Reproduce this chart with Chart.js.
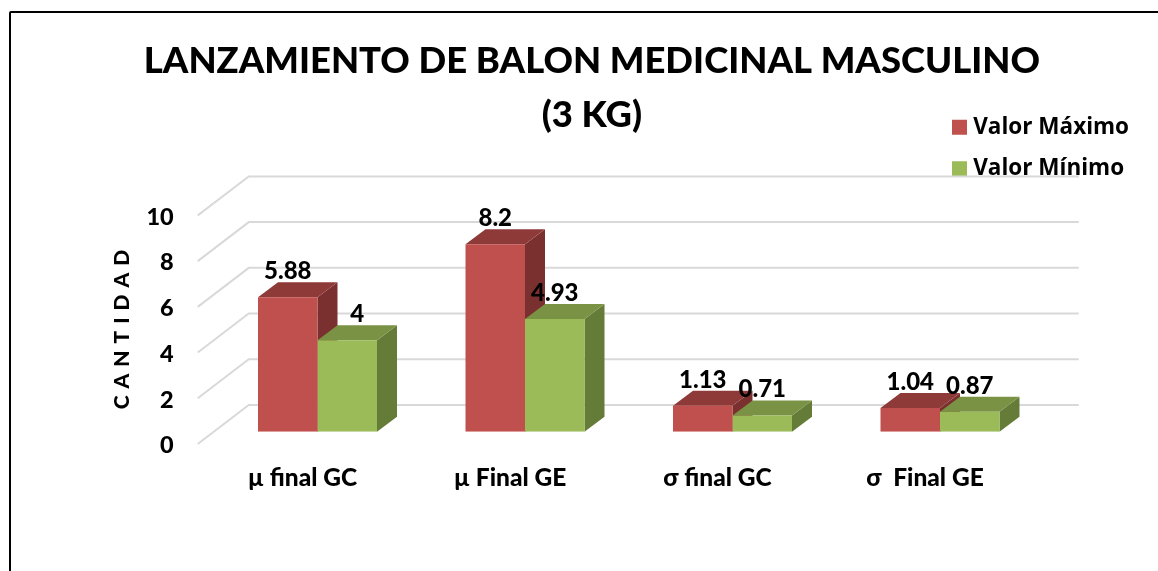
<!DOCTYPE html>
<html>
<head>
<meta charset="utf-8">
<title>Lanzamiento de balon medicinal</title>
<script src="https://cdn.jsdelivr.net/npm/chart.js@4"></script>
<style>
  html, body { margin: 0; background: #fff; overflow: hidden; }
  #wrap { position: relative; width: 1158px; height: 571px; overflow: hidden; }
  #frame { position: absolute; left: 9px; top: 11px; width: 1300px; height: 800px; border: 2px solid #000; border-radius: 2px; }
</style>
</head>
<body>
<div id="wrap">
  <canvas id="chart" width="1158" height="571"></canvas>
  <div id="frame"></div>
</div>
<script>
const categories = ["µ final GC", "µ Final GE", "σ final GC", "σ  Final GE"];
const valorMaximo = [5.88, 8.2, 1.13, 1.04];
const valorMinimo = [4, 4.93, 0.71, 0.87];
const yTicks = [0, 2, 4, 6, 8, 10];

const FONT = "Lato, Carlito, sans-serif";
const faces = [
  { top: "#8E3A38", side: "#7A302E" },
  { top: "#7A9244", side: "#657C39" },
];

// fake 3D: side and top faces are hung off the real bar elements
const bars3d = {
  id: "bars3d",
  beforeDatasetsDraw(chart) {
    const { ctx, chartArea: a, scales: { y } } = chart;
    ctx.save();
    ctx.strokeStyle = "#D9D9D9";
    ctx.lineWidth = 2;
    yTicks.forEach((v) => {
      const py = y.getPixelForValue(v);
      ctx.beginPath();
      ctx.moveTo(a.left - 16, py + 12.3);
      ctx.lineTo(a.left + 35, py - 26.7);
      ctx.lineTo(a.right + 35, py - 26.7);
      ctx.stroke();
    });
    ctx.restore();

    const dx = 20, dy = 15;
    chart.data.datasets.forEach((ds, i) => {
      const c = faces[i];
      chart.getDatasetMeta(i).data.forEach((bar) => {
        const { x, y, width, base } = bar.getProps(["x", "y", "width", "base"], true);
        const l = x - width / 2, r = x + width / 2;
        ctx.fillStyle = c.side;
        ctx.beginPath();
        ctx.moveTo(r, y);
        ctx.lineTo(r + dx, y - dy);
        ctx.lineTo(r + dx, base - dy);
        ctx.lineTo(r, base);
        ctx.closePath();
        ctx.fill();
        ctx.fillStyle = c.top;
        ctx.beginPath();
        ctx.moveTo(l, y);
        ctx.lineTo(l + dx, y - dy);
        ctx.lineTo(r + dx, y - dy);
        ctx.lineTo(r, y);
        ctx.closePath();
        ctx.fill();
      });
    });
  },
  afterDatasetsDraw(chart) {
    const { ctx } = chart;
    ctx.save();
    ctx.font = "900 24px " + FONT;
    ctx.fillStyle = "#000";
    ctx.textAlign = "center";
    ctx.textBaseline = "middle";
    chart.data.datasets.forEach((ds, i) => {
      chart.getDatasetMeta(i).data.forEach((bar, j) => {
        const { x, y } = bar.getProps(["x", "y"], true);
        // the "4" label sits a bit to the right in the original
        const shift = ds.data[j] === 4 ? 10 : 0;
        ctx.fillText(String(ds.data[j]), x + shift, y - 26);
      });
    });
    // axis title, centred lower than the scale's own title would be
    ctx.translate(122, 329);
    ctx.rotate(-Math.PI / 2);
    ctx.font = "900 21px " + FONT;
    ctx.letterSpacing = "1px";
    ctx.fillText("C A N T I D A D", 0, 0);
    ctx.restore();
  },
  beforeDraw(chart) {
    const lg = chart.legend;
    const w = lg.width, h = lg.height;
    lg.left = 938; lg.right = 938 + w;
    lg.top = 97; lg.bottom = 97 + h;
  },
};

new Chart(document.getElementById("chart"), {
  type: "bar",
  data: {
    labels: categories,
    datasets: [
      { label: "Valor Máximo", data: valorMaximo, backgroundColor: "#C0504D", borderWidth: 0 },
      { label: "Valor Mínimo", data: valorMinimo, backgroundColor: "#9BBB59", borderWidth: 0 },
    ],
  },
  plugins: [bars3d],
  options: {
    responsive: false,
    animation: false,
    layout: { padding: { left: 140, right: 114.25, top: 0, bottom: 0 } },
    datasets: { bar: { categoryPercentage: 0.5735, barPercentage: 1 } },
    scales: {
      x: {
        grid: { display: false },
        border: { display: false },
        afterFit(scale) { scale.height = 139.3; },
        ticks: {
          color: "#000",
          font: { family: FONT, size: 24.5, weight: "900" },
          labelOffset: -15,
          padding: 24,
          maxRotation: 0,
        },
      },
      y: {
        min: 0,
        max: 10,
        grid: { display: false },
        border: { display: false },
        afterFit(scale) { scale.width = 73.75; },
        afterBuildTicks(scale) { scale.ticks = yTicks.map((v) => ({ value: v })); },
        ticks: {
          color: "#000",
          font: { family: FONT, size: 23.5, weight: "900" },
          labelOffset: 14,
          padding: 32,
        },
      },
    },
    plugins: {
      title: {
        display: true,
        text: ["LANZAMIENTO DE BALON MEDICINAL MASCULINO", "(3 KG)"],
        color: "#000",
        font: { family: FONT, size: 36.45, weight: "900", lineHeight: 1.48 },
        padding: { top: 34, bottom: 61.2 },
      },
      legend: {
        position: "chartArea",
        align: "start",
        labels: {
          color: "#000",
          font: { family: "'Open Sans', sans-serif", size: 22.5, weight: "bold" },
          usePointStyle: true,
          pointStyle: "rect",
          boxWidth: 5,
          boxHeight: 15,
          padding: 19,
        },
      },
      tooltip: { enabled: false },
    },
  },
});
</script>
</body>
</html>
